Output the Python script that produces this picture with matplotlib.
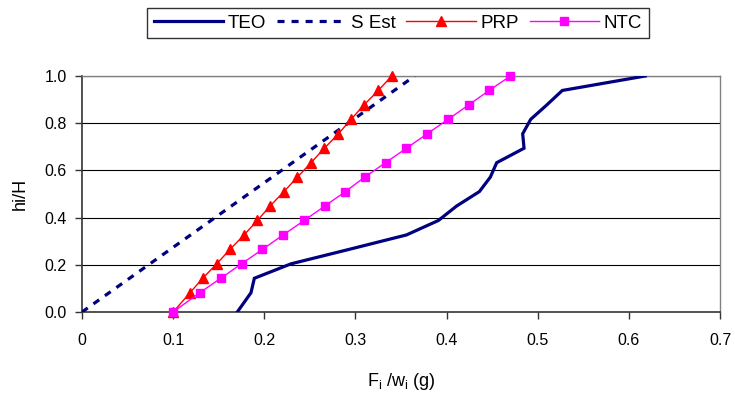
import matplotlib
matplotlib.use("Agg")
import matplotlib.pyplot as plt

plt.rcParams['font.family'] = ['Liberation Sans', 'DejaVu Sans']
plt.rcParams['mathtext.fontset'] = 'custom'
plt.rcParams['mathtext.rm'] = 'Liberation Sans'

# normalized storey heights hi/H (first storey taller)
heights = [0, 4/49, 7/49, 10/49, 13/49, 16/49, 19/49, 22/49, 25/49, 28/49,
           31/49, 34/49, 37/49, 40/49, 43/49, 46/49, 1.0]

teo = [0.1704, 0.1854, 0.1891, 0.2293, 0.293, 0.356, 0.391, 0.411, 0.436,
       0.448, 0.455, 0.485, 0.4835, 0.4923, 0.510, 0.527, 0.618]

sest_h = [0.0, 1.0]
sest = [0.0, 0.365]

prp = [0.100, 0.1185, 0.1324, 0.1478, 0.1624, 0.1778, 0.1924, 0.2063, 0.2216,
       0.2363, 0.2513, 0.2659, 0.2813, 0.2952, 0.3094, 0.3251, 0.3398]

ntc = [0.100, 0.1292, 0.1522, 0.1750, 0.1980, 0.2207, 0.2438, 0.2664, 0.2890,
       0.3102, 0.3330, 0.3560, 0.3787, 0.4017, 0.4243, 0.4467, 0.4701]

xticks = [0, 0.1, 0.2, 0.3, 0.4, 0.5, 0.6, 0.7]
xticklabels = ['0', '0.1', '0.2', '0.3', '0.4', '0.5', '0.6', '0.7']
yticks = [0.0, 0.2, 0.4, 0.6, 0.8, 1.0]
yticklabels = ['0.0', '0.2', '0.4', '0.6', '0.8', '1.0']

fig = plt.figure(figsize=(7.35, 3.96), dpi=100)
ax = fig.add_axes([82/735, 1 - 312/396, (720 - 82)/735, (312 - 76)/396])

ax.set_xlim(0, 0.7)
ax.set_ylim(0, 1.0)

for y in yticks[1:]:
    ax.axhline(y, color='#000000', lw=0.8, zorder=1)

navy = '#000080'
l1, = ax.plot(teo, heights, color=navy, lw=2.3, label='TEO', zorder=3,
              solid_joinstyle='miter')
l2, = ax.plot(sest, sest_h, color=navy, lw=2.3, ls=(0, (2.2, 2.2)),
              label='S Est', zorder=3)
l3, = ax.plot(prp, heights, color='#FF0000', lw=1.0, marker='^', ms=7.5,
              mec='#FF0000', mfc='#FF0000', label='PRP', zorder=4, clip_on=False)
l4, = ax.plot(ntc, heights, color='#FF00FF', lw=1.0, marker='s', ms=6,
              mec='#FF00FF', mfc='#FF00FF', label='NTC', zorder=4, clip_on=False)

ax.set_xticks(xticks)
ax.set_xticklabels(xticklabels, fontsize=11.5)
ax.set_yticks(yticks)
ax.set_yticklabels(yticklabels, fontsize=11.5)
ax.tick_params(axis='both', direction='out', length=5, width=1.0, color='#333333', pad=6)
ax.tick_params(axis='x', pad=10)

for s in ['left', 'bottom']:
    ax.spines[s].set_color('#333333')
    ax.spines[s].set_linewidth(1.2)
for s in ['right', 'top']:
    ax.spines[s].set_color('#808080')
    ax.spines[s].set_linewidth(1.0)

ax.set_xlabel(r'F$_\mathregular{i}$ /w$_\mathregular{i}$ (g)', fontsize=13, labelpad=17)
ax.set_ylabel('hi/H', fontsize=13, labelpad=11)

leg = fig.legend(handles=[l1, l2, l3, l4], loc='center', bbox_to_anchor=(398/735, 1 - 23/396),
                 ncol=4, fontsize=13.5, frameon=True, fancybox=False, edgecolor='#000000',
                 handlelength=3.7, handletextpad=0.27, columnspacing=0.55,
                 borderpad=0.35, borderaxespad=0)
leg.get_frame().set_linewidth(1.0)

fig.savefig('out.png', dpi=100)
